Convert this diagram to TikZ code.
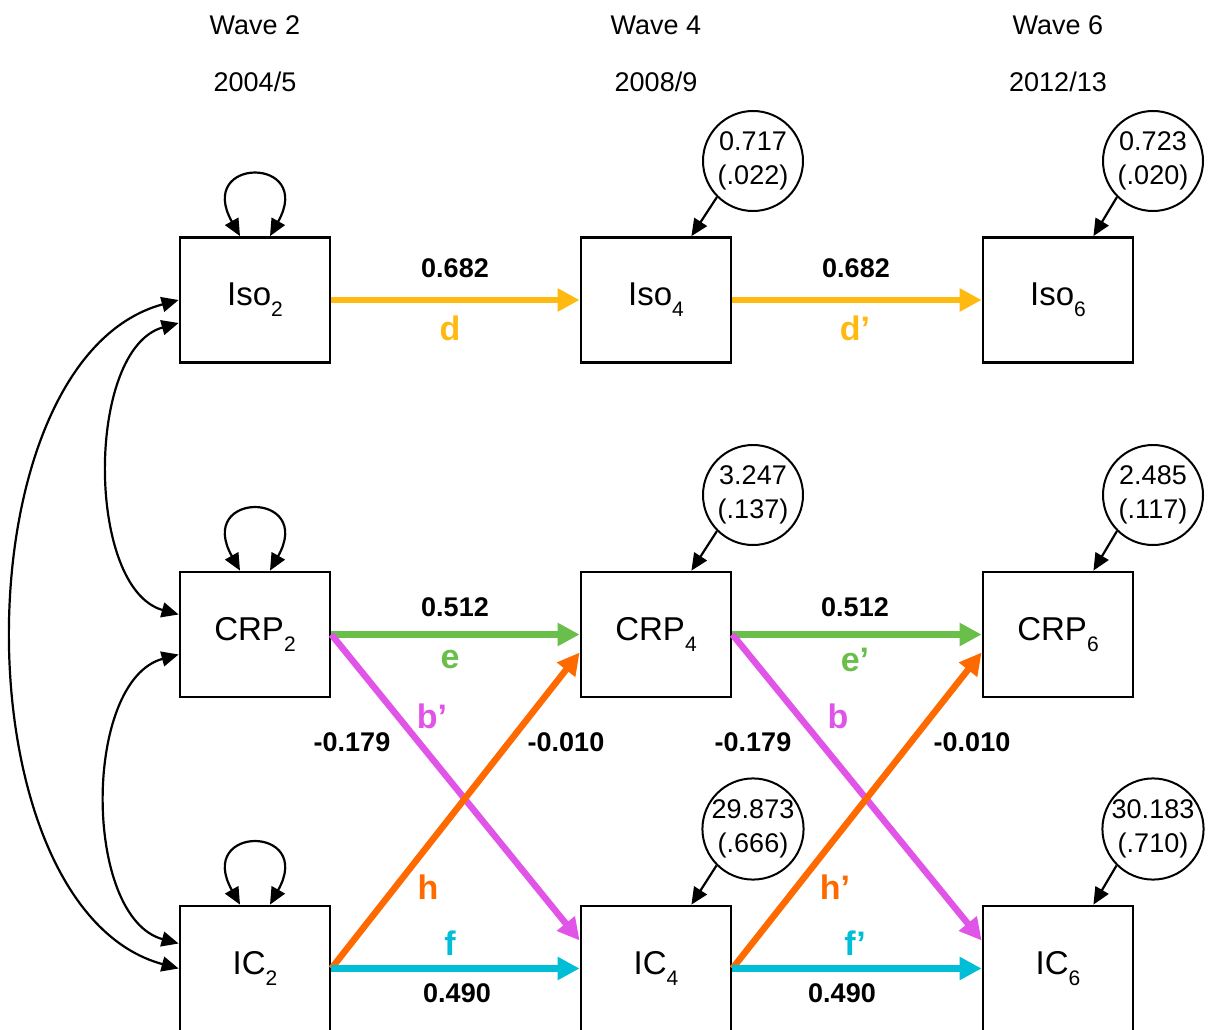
\documentclass[tikz,border=0pt]{standalone}
\usepackage{fontspec}
\setmainfont{Liberation Sans}
\usetikzlibrary{arrows.meta}
\definecolor{pgold}   {HTML}{FFBA12}
\definecolor{pgreen}  {HTML}{6ABF4B}
\definecolor{pmagenta}{HTML}{E055E8}
\definecolor{porange} {HTML}{FF6A00}
\definecolor{pcyan}   {HTML}{00BED6}
\newcommand{\lowsub}[1]{\raisebox{-11pt}{\fontsize{21}{21}\selectfont #1}}
\tikzset{
  varbox/.style={draw, line width=2.8pt, minimum width=150pt, minimum height=125pt,
                 inner sep=0pt, font=\fontsize{33}{36}\selectfont},
  resid/.style={circle, draw, line width=2pt, minimum size=100pt, inner sep=0pt,
                align=center, font=\fontsize{27}{34}\selectfont},
  wavelbl/.style={font=\fontsize{27}{30}\selectfont},
  coef/.style={font=\fontsize{27}{30}\selectfont\bfseries},
  pathlbl/.style={font=\fontsize{34}{36}\selectfont\bfseries},
  regpath/.style={line width=6.5pt, -{Triangle[length=22pt,width=22pt]}},
  residarrow/.style={line width=2.2pt, -{Triangle[length=17pt,width=15pt]}},
  covarrow/.style={line width=2.2pt,
                   {Triangle[length=17pt,width=15pt]}-{Triangle[length=17pt,width=15pt]}},
}

\begin{document}
\begin{tikzpicture}[x=1pt,y=-1pt]
  \useasboundingbox (0,0) rectangle (1208,1030);

  % wave headings
  \node[wavelbl] (w2)  at (255,25) {Wave 2};
  \node[wavelbl] (y2)  at (255,82) {2004/5};
  \node[wavelbl] (w4)  at (656,25) {Wave 4};
  \node[wavelbl] (y4)  at (656,82) {2008/9};
  \node[wavelbl] (w6)  at (1058,25) {Wave 6};
  \node[wavelbl] (y6)  at (1058,82) {2012/13};

  % observed variables
  \node[varbox] (iso2) at (255,300)   {Iso\lowsub{2}};
  \node[varbox] (iso4) at (656,300)   {Iso\lowsub{4}};
  \node[varbox] (iso6) at (1058,300)  {Iso\lowsub{6}};
  \node[varbox] (crp2) at (255,634.5) {CRP\lowsub{2}};
  \node[varbox] (crp4) at (656,634.5) {CRP\lowsub{4}};
  \node[varbox] (crp6) at (1058,634.5){CRP\lowsub{6}};
  \node[varbox] (ic2)  at (255,968.5) {IC\lowsub{2}};
  \node[varbox] (ic4)  at (656,968.5) {IC\lowsub{4}};
  \node[varbox] (ic6)  at (1058,968.5){IC\lowsub{6}};

  % residual variances
  \node[resid] (riso4) at (753,161)  {0.717\\(.022)};
  \node[resid] (riso6) at (1153,161) {0.723\\(.020)};
  \node[resid] (rcrp4) at (753,495)  {3.247\\(.137)};
  \node[resid] (rcrp6) at (1153,495) {2.485\\(.117)};
  \node[resid] (ric4)  at (753,829)  {29.873\\(.666)};
  \node[resid] (ric6)  at (1153,829) {30.183\\(.710)};
  \foreach \r/\v in {riso4/iso4,riso6/iso6,rcrp4/crp4,rcrp6/crp6,ric4/ic4,ric6/ic6}
    {\draw[residarrow] (\r.225) -- (\v.61);}

  % variances of the wave 2 variables
  \foreach \v in {iso2,crp2,ic2}
    {\draw[covarrow] ([xshift=-15pt]\v.north) .. controls +(-45,-80) and +(45,-80)
       .. ([xshift=15pt]\v.north);}

  % covariances at wave 2
  \draw[covarrow] (iso2.west) .. controls +(-221,60) and +(-221,-60) .. (ic2.west);
  \draw[covarrow] ([yshift=-23pt]iso2.west) .. controls +(-93,26) and +(-93,-26)
    .. ([yshift=20pt]crp2.west);
  \draw[covarrow] ([yshift=-20pt]crp2.west) .. controls +(-96,26) and +(-96,-26)
    .. ([yshift=25pt]ic2.west);

  % paths
  \draw[regpath,pgold]    (iso2.east) -- (iso4.west);
  \draw[regpath,pgold]    (iso4.east) -- (iso6.west);
  \draw[regpath,pgreen]   (crp2.east) -- (crp4.west);
  \draw[regpath,pgreen]   (crp4.east) -- (crp6.west);
  \draw[regpath,pmagenta] (crp2.east) -- ([yshift=28pt]ic4.west);
  \draw[regpath,pmagenta] (crp4.east) -- ([yshift=28pt]ic6.west);
  \draw[regpath,porange]  (ic2.east)  -- ([yshift=-18pt]crp4.west);
  \draw[regpath,porange]  (ic4.east)  -- ([yshift=-18pt]crp6.west);
  \draw[regpath,pcyan]    (ic2.east)  -- (ic4.west);
  \draw[regpath,pcyan]    (ic4.east)  -- (ic6.west);

  % path labels, waves 2 to 4
  \node[coef] (k1)  at (455,268) {0.682};
  \node[pathlbl,text=pgold] (l1) at (450,328) {d};
  \node[coef] (k2)  at (455,607) {0.512};
  \node[pathlbl,text=pgreen] (l2) at (450,660) {e};
  \node[pathlbl,text=pmagenta] (l3) at (432,716) {b’};
  \node[coef] (k3)  at (352,742) {-0.179};
  \node[coef] (k4)  at (566,742) {-0.010};
  \node[pathlbl,text=porange] (l4) at (428,887) {h};
  \node[pathlbl,text=pcyan] (l5) at (450,943) {f};
  \node[coef] (k5)  at (457,993) {0.490};

  % path labels, waves 4 to 6
  \node[coef] (k6)  at (856,268) {0.682};
  \node[pathlbl,text=pgold] (l6) at (855,328) {d’};
  \node[coef] (k7)  at (855,607) {0.512};
  \node[pathlbl,text=pgreen] (l7) at (855,660) {e’};
  \node[pathlbl,text=pmagenta] (l8) at (838,716) {b};
  \node[coef] (k8)  at (753,742) {-0.179};
  \node[coef] (k9)  at (972,742) {-0.010};
  \node[pathlbl,text=porange] (l9) at (835,887) {h’};
  \node[pathlbl,text=pcyan] (l10) at (855,943) {f’};
  \node[coef] (k10) at (842,993) {0.490};
\end{tikzpicture}
\end{document}
